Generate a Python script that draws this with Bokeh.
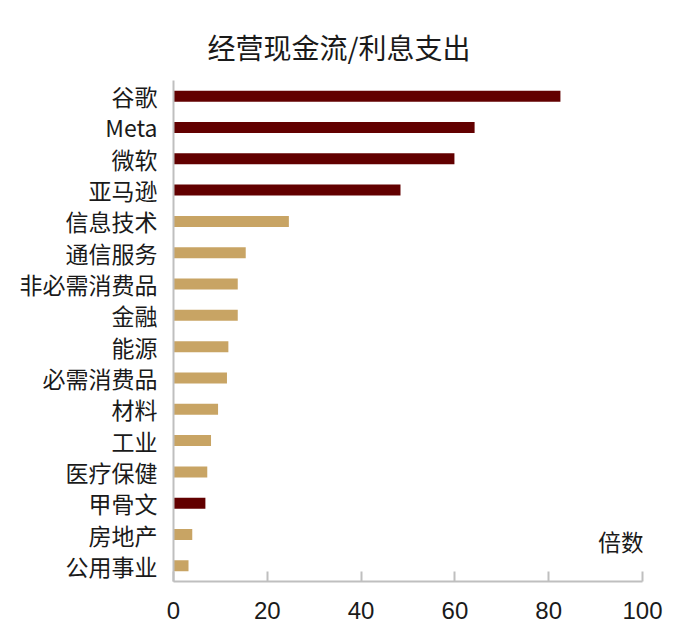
from bokeh.plotting import figure
from bokeh.models import ColumnDataSource, Title, FixedTicker
from bokeh.transform import dodge
from bokeh.core.properties import value
from bokeh.embed import file_html
from bokeh.resources import INLINE

categories = ["谷歌", "Meta", "微软", "亚马逊", "信息技术", "通信服务", "非必需消费品", "金融",
              "能源", "必需消费品", "材料", "工业", "医疗保健", "甲骨文", "房地产", "公用事业"]
values = [82.5, 64.2, 59.9, 48.4, 24.6, 15.4, 13.7, 13.7, 11.7, 11.4, 9.5, 8.0, 7.2, 6.8, 4.0, 3.2]
is_company = [True, True, True, True, False, False, False, False,
              False, False, False, False, False, True, False, False]
x_ticks = [0, 20, 40, 60, 80, 100]
title_text = "经营现金流/利息支出"
unit_text = "倍数"

DARK = "#620000"
GOLD = "#C8A464"
colors = [DARK if c else GOLD for c in is_company]

CJK = "Noto Sans CJK SC"

src = ColumnDataSource(dict(y=categories, x=values, color=colors))

p = figure(width=676, height=628, y_range=list(reversed(categories)), x_range=(0, 100),
           output_backend="svg", toolbar_location=None,
           min_border_left=173, min_border_right=34, min_border_top=80, min_border_bottom=47)
p.y_range.range_padding = 0

p.hbar(y="y", right="x", left=0, height=0.35, color="color", source=src, line_color=None)

p.add_layout(Title(text=title_text, text_font=CJK, text_font_size="28px",
                   text_font_style="normal", text_color="#1a1a1a", align="left",
                   offset=34, standoff=27), "above")

unit_src = ColumnDataSource(dict(x=[100.3], y=["房地产"], t=[unit_text]))
p.text(x="x", y=dodge("y", -0.21, range=p.y_range), text="t", source=unit_src,
       text_align="right", text_baseline="middle", text_font=value(CJK),
       text_font_size="23px", text_color="#1a1a1a")

p.grid.visible = False
p.outline_line_color = None

xa = p.xaxis[0]
xa.ticker = FixedTicker(ticks=x_ticks)
xa.major_tick_in = 10
xa.major_tick_out = 0
xa.minor_tick_line_color = None
xa.axis_line_color = "#BFBFBF"
xa.axis_line_width = 2
xa.major_tick_line_color = "#BFBFBF"
xa.major_tick_line_width = 2
xa.major_label_text_font = "Liberation Sans"
xa.major_label_text_font_size = "24px"
xa.major_label_text_color = "#1a1a1a"
xa.major_label_standoff = 20

ya = p.yaxis[0]
ya.major_tick_in = 0
ya.major_tick_out = 0
ya.minor_tick_line_color = None
ya.axis_line_color = "#BFBFBF"
ya.axis_line_width = 2
ya.major_label_text_font = CJK
ya.major_label_text_font_size = "23px"
ya.major_label_text_color = "#1a1a1a"
ya.major_label_standoff = 16

open("out.html", "w").write(file_html(p, INLINE))
